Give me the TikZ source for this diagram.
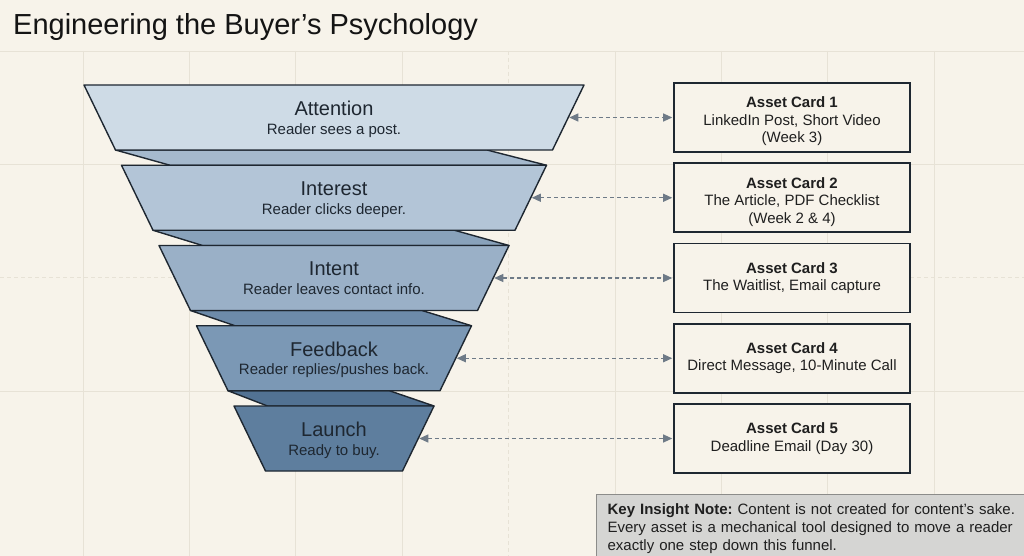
\documentclass[tikz,border=0pt]{standalone}
\usepackage{fontspec}
\setmainfont{Liberation Sans}
\usetikzlibrary{arrows.meta}
\frenchspacing

\definecolor{paper}{HTML}{F7F3EA}
\definecolor{gridln}{HTML}{E7E2D6}
\definecolor{ink}{HTML}{1E2731}
\definecolor{titlec}{HTML}{141414}
\definecolor{lay1}{HTML}{CEDBE6}
\definecolor{lay2}{HTML}{B3C5D7}
\definecolor{lay3}{HTML}{9AB0C7}
\definecolor{lay4}{HTML}{7B98B5}
\definecolor{lay5}{HTML}{5E7E9E}
\definecolor{band1}{HTML}{A5B9CD}
\definecolor{band2}{HTML}{89A2BB}
\definecolor{band3}{HTML}{6D8BAA}
\definecolor{band4}{HTML}{527293}
\definecolor{linkc}{HTML}{6E7A87}
\definecolor{notefill}{HTML}{D5D5D3}
\definecolor{noteline}{HTML}{8C8C8A}

\newcommand{\cardhead}[1]{\rule{0pt}{19pt}\textbf{#1}}

\begin{document}
\begin{tikzpicture}[x=1pt,y=-1pt,
  layer/.style={draw=ink, line width=1.4pt, line join=round},
  stage/.style={align=center, text=ink, inner sep=0pt, font=\fontsize{15}{18.5}\selectfont},
  card/.style={draw=ink, line width=1.6pt, fill=paper, minimum width=236pt, minimum height=69pt,
    align=center, inner sep=0pt, text=black!88, font=\fontsize{15}{17.5}\selectfont},
  link/.style={linkc, line width=1.1pt, dash pattern=on 4pt off 3pt, shorten >=1pt,
    {Triangle[length=9pt,width=8pt]}-{Triangle[length=9pt,width=8pt]}},
  note/.style={draw=noteline, fill=notefill, line width=1.2pt, text width=415pt, align=left,
    inner xsep=11pt, inner ysep=9pt, text=black!88, font=\fontsize{15}{18}\selectfont}]

\fill[paper] (0,0) rectangle (1024,556);
\useasboundingbox (0,0) rectangle (1024,556);

% faint grid behind everything
\foreach \x in {0,1,2,3,5,6,7,8} \draw[gridln, line width=0.8pt] (83+106.4*\x,51) -- (83+106.4*\x,556);
\draw[gridln, line width=0.8pt, dash pattern=on 4pt off 3pt] (508.6,51) -- (508.6,556);
\foreach \y in {51,164,391} \draw[gridln, line width=0.8pt] (0,\y) -- (1024,\y);
\draw[gridln, line width=0.8pt, dash pattern=on 4pt off 3pt] (0,277) -- (1024,277);

\node[anchor=base west, inner sep=0pt, text=titlec, font=\fontsize{29}{32}\selectfont] (title) at (13,35) {Engineering the Buyer’s Psychology};

% bands between the funnel layers
\foreach \i/\col in {0/band1,1/band2,2/band3,3/band4}{
  \pgfmathsetmacro\t{150+80.25*\i}
  \filldraw[layer, fill=\col] (115.5+37.5*\i,\t) -- (487-32.5*\i,\t) -- (546.5-37.5*\i,\t+15.25) -- (170+32.5*\i,\t+15.25) -- cycle;
}

% funnel layers
\foreach \i/\col/\nm in {0/lay1/attn,1/lay2/intr,2/lay3/intn,3/lay4/fdbk,4/lay5/lnch}{
  \pgfmathsetmacro\t{85+80.25*\i}
  \pgfmathsetmacro\a{250-37.5*\i}
  \pgfmathsetmacro\c{218.5-37.5*\i}
  \filldraw[layer, fill=\col] (334-\a,\t) -- (334+\a,\t) -- (334+\c,\t+65) -- (334-\c,\t+65) -- cycle;
  \coordinate (\nm-e) at (569.25-37.5*\i,\t+32.5);
}

\node[stage] (attn) at (334,120.5) {{\fontsize{20}{18.5}\selectfont Attention}\\Reader sees a post.\strut};
\node[stage] (intr) at (334,200.75) {{\fontsize{20}{18.5}\selectfont Interest}\\Reader clicks deeper.\strut};
\node[stage] (intn) at (334,281) {{\fontsize{20}{18.5}\selectfont Intent}\\Reader leaves contact info.\strut};
\node[stage] (fdbk) at (334,361.25) {{\fontsize{20}{18.5}\selectfont Feedback}\\Reader replies/pushes back.\strut};
\node[stage] (lnch) at (334,441.5) {{\fontsize{20}{18.5}\selectfont Launch}\\Ready to buy.\strut};

% asset cards
\node[card] (card1) at (792,117.5) {\cardhead{Asset Card 1}\\LinkedIn Post, Short Video\\(Week 3)};
\node[card] (card2) at (792,197.75) {\cardhead{Asset Card 2}\\The Article, PDF Checklist\\(Week 2 \& 4)};
\node[card] (card3) at (792,278) {\textbf{Asset Card 3}\\The Waitlist, Email capture};
\node[card] (card4) at (792,358.25) {\textbf{Asset Card 4}\\Direct Message, 10-Minute Call};
\node[card] (card5) at (792,438.5) {\textbf{Asset Card 5}\\Deadline Email (Day 30)};

\draw[link] (attn-e) -- (card1);
\draw[link] (intr-e) -- (card2);
\draw[link] (intn-e) -- (card3);
\draw[link] (fdbk-e) -- (card4);
\draw[link] (lnch-e) -- (card5);

\node[note, anchor=north west] (note) at (596,494) {\textbf{Key Insight Note:} Content is not created for content's sake.\\Every asset is a mechanical tool designed to move a reader\\exactly one step down this funnel.};
\end{tikzpicture}
\end{document}
